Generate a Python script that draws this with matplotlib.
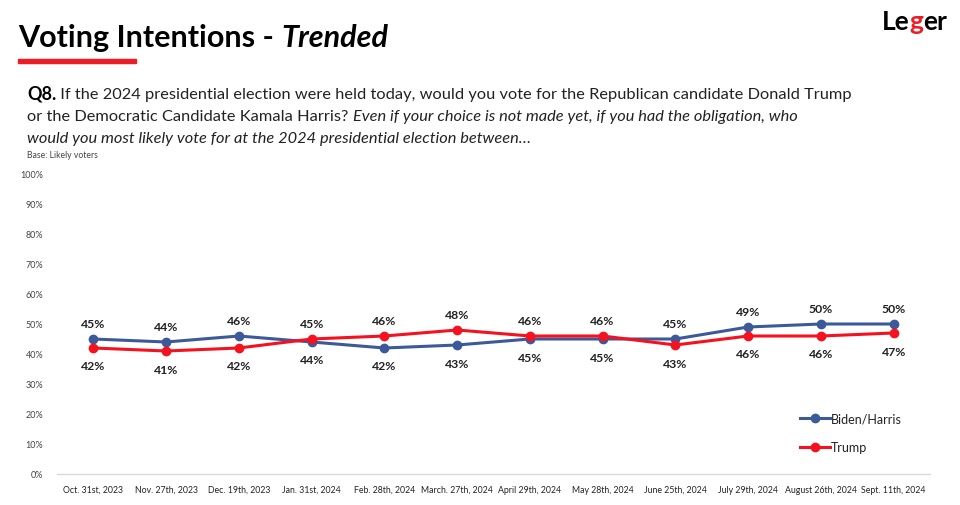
import matplotlib
matplotlib.use("Agg")
import matplotlib.pyplot as plt

plt.rcParams['font.family'] = ['Lato', 'DejaVu Sans']

dates = ["Oct. 31st, 2023", "Nov. 27th, 2023", "Dec. 19th, 2023", "Jan. 31st, 2024",
         "Feb. 28th, 2024", "March. 27th, 2024", "April 29th, 2024", "May 28th, 2024",
         "June 25th, 2024", "July 29th, 2024", "August 26th, 2024", "Sept. 11th, 2024"]
biden_harris = [45, 44, 46, 44, 42, 43, 45, 45, 45, 49, 50, 50]
trump = [42, 41, 42, 45, 46, 48, 46, 46, 43, 46, 46, 47]
yticks = [0, 10, 20, 30, 40, 50, 60, 70, 80, 90, 100]

blue = "#3C5A99"
red = "#F5111E"

W, H = 960, 506
fig = plt.figure(figsize=(9.6, 5.06), dpi=100)


def fx(px):
    return px / W


def fy(py):
    return 1 - py / H


def put_segments(x, y, segs):
    # writes pieces of text one after another on one line
    r = fig.canvas.get_renderer()
    for s, kw in segs:
        t = fig.text(fx(x), fy(y), s, va="baseline", ha="left", **kw)
        bb = t.get_window_extent(renderer=r)
        x += bb.width


# title
put_segments(18, 47, [("Voting Intentions - ", dict(fontsize=22, fontweight="bold", color="black")),
                      ("Trended", dict(fontsize=22, fontweight="bold", style="italic", color="black"))])
fig.patches.append(plt.Rectangle((fx(18), fy(64)), fx(118), 4 / H, transform=fig.transFigure,
                                 color="#EE1C25", zorder=5))

# logo
put_segments(882, 30, [("Le", dict(fontsize=19, fontweight="bold", color="black")),
                       ("g", dict(fontsize=19, fontweight="bold", color="#EE1C25")),
                       ("er", dict(fontsize=19, fontweight="bold", color="black"))])

# question
qs = 11.8
put_segments(27, 99, [("Q8.", dict(fontsize=13, fontweight="bold", color="black")),
                      (" If the 2024 presidential election were held today, would you vote for the Republican candidate Donald Trump",
                       dict(fontsize=qs, color="#222222"))])
put_segments(27, 121, [("or the Democratic Candidate Kamala Harris? ", dict(fontsize=qs, color="#222222")),
                       ("Even if your choice is not made yet, if you had the obligation, who",
                        dict(fontsize=qs, style="italic", color="#222222"))])
put_segments(27, 143, [("would you most likely vote for at the 2024 presidential election between\u2026",
                        dict(fontsize=qs, style="italic", color="#222222"))])
put_segments(27, 158, [("Base: Likely voters", dict(fontsize=6.2, color="#444444"))])

# chart
ax = fig.add_axes([fx(57), fy(475), fx(930) - fx(57), 300 / H])
x = list(range(len(dates)))
ax.plot(x, biden_harris, color=blue, lw=2.2, marker="o", ms=6, label="Biden/Harris", zorder=3)
ax.plot(x, trump, color=red, lw=2.2, marker="o", ms=6, label="Trump", zorder=4)

for i in x:
    b, t = biden_harris[i], trump[i]
    b_up = b >= t
    ax.annotate(f"{b}%", (i, b), xytext=(0, 7 if b_up else -9), textcoords="offset points",
                ha="center", va="bottom" if b_up else "top", fontsize=8.8, fontweight="bold", color="#222222")
    ax.annotate(f"{t}%", (i, t), xytext=(0, -9 if b_up else 7), textcoords="offset points",
                ha="center", va="top" if b_up else "bottom", fontsize=8.8, fontweight="bold", color="#222222")

ax.set_xlim(-0.5, len(dates) - 0.5)
ax.set_ylim(0, 100)
ax.set_yticks(yticks)
ax.set_yticklabels([f"{v}%" for v in yticks], fontsize=6.5, color="#444444")
ax.set_xticks(x)
ax.set_xticklabels(dates, fontsize=6.3, color="#222222")
ax.tick_params(length=0, pad=8)
ax.tick_params(axis="y", pad=10)
for s in ["top", "right", "left"]:
    ax.spines[s].set_visible(False)
ax.spines["bottom"].set_color("#D9D9D9")
ax.spines["bottom"].set_linewidth(1)

leg = ax.legend(loc="upper left", bbox_to_anchor=((800 - 57) / 873, (475 - 413) / 300), frameon=False,
                fontsize=9, handlelength=2.4, labelspacing=1.4, handletextpad=0.1,
                borderaxespad=0, borderpad=0)
for txt in leg.get_texts():
    txt.set_color("#222222")

fig.savefig("out.png", dpi=100, facecolor="white")
